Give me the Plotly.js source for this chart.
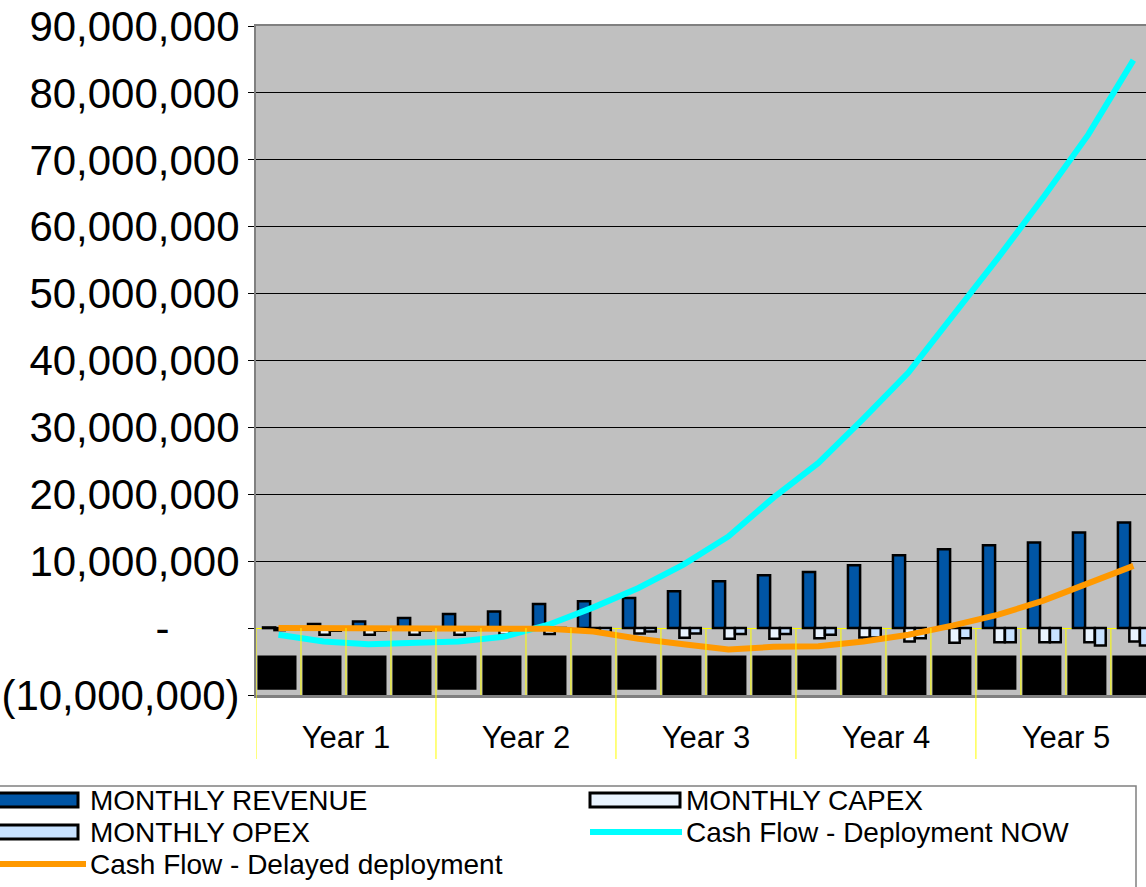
<!DOCTYPE html>
<html><head><meta charset="utf-8">
<script src="https://cdn.plot.ly/plotly-3.0.1.min.js"></script>
<style>html,body{margin:0;padding:0;background:#fff;}#chart{width:1146px;height:887px;}</style>
</head><body><div id="chart"></div>
<script>
const quarters = ['Y1Q1','Y1Q2','Y1Q3','Y1Q4','Y2Q1','Y2Q2','Y2Q3','Y2Q4','Y3Q1','Y3Q2','Y3Q3','Y3Q4','Y4Q1','Y4Q2','Y4Q3','Y4Q4','Y5Q1','Y5Q2','Y5Q3','Y5Q4'];
const years = ['Year 1','Year 2','Year 3','Year 4','Year 5'];
const revenue = [100000,600000,1000000,1500000,2100000,2500000,3600000,4000000,4500000,5500000,7000000,7900000,8400000,9400000,10900000,11800000,12400000,12800000,14300000,15800000];
const capex = [-300000,-1000000,-1000000,-1000000,-1000000,-1000000,-900000,-600000,-800000,-1450000,-1600000,-1600000,-1500000,-1400000,-2000000,-2200000,-2100000,-2100000,-2100000,-2000000];
const opex = [-200000,-400000,-400000,-400000,-400000,-400000,-400000,-600000,-500000,-800000,-900000,-900000,-1000000,-1400000,-1500000,-1500000,-2100000,-2100000,-2600000,-2600000];
const cashNow = [-1000000,-2000000,-2400000,-2300000,-2000000,-1300000,500000,3100000,6000000,9500000,13700000,19500000,24700000,31300000,38200000,46800000,55400000,64400000,73800000,84900000];
const cashDelayed = [0,0,0,0,0,0,-100000,-500000,-1600000,-2400000,-3200000,-2800000,-2700000,-2000000,-1000000,400000,2000000,4100000,6700000,9300000];
const bandTop = -4100000;
const bandLen = [-5100000,-6500000,-6500000,-6500000,-5100000,-6500000,-6500000,-6500000,-5100000,-6500000,-6500000,-6500000,-5100000,-6500000,-6500000,-6500000,-5100000,-6500000,-6500000,-6500000];
const yTickVals = [90000000,80000000,70000000,60000000,50000000,40000000,30000000,20000000,10000000,0,-10000000];
const yTickText = ['90,000,000','80,000,000','70,000,000','60,000,000','50,000,000','40,000,000','30,000,000','20,000,000','10,000,000','-\u2007\u2007\u2007','(10,000,000)'];
const legendNames = ['MONTHLY REVENUE','MONTHLY CAPEX','MONTHLY OPEX','Cash Flow - Deployment NOW','Cash Flow - Delayed deployment'];

const xi = quarters.map((q,i)=>i);
const FONT = 'Arial, "Liberation Sans", sans-serif';
const C = {rev:'#0055A5', capex:'#EAF4FF', opex:'#C8E2FF', now:'#00FFFF', delayed:'#FF9900'};

const traces = [
  {type:'bar', name:'band', x:xi, y:bandLen, base:bandTop, offset:-0.467, width:0.867,
   marker:{color:'#000000', line:{width:0}}, showlegend:false, hoverinfo:'skip'},
  {type:'bar', name:legendNames[0], x:xi, y:revenue, offset:-0.344, width:0.27,
   marker:{color:C.rev, line:{color:'#000', width:2.5}}},
  {type:'bar', name:legendNames[1], x:xi, y:capex, offset:-0.09, width:0.23,
   marker:{color:C.capex, line:{color:'#000', width:2.5}}},
  {type:'bar', name:legendNames[2], x:xi, y:opex, offset:0.145, width:0.24,
   marker:{color:C.opex, line:{color:'#000', width:2.5}}},
  {type:'scatter', mode:'lines', name:legendNames[3], x:xi, y:cashNow,
   line:{color:C.now, width:6}},
  {type:'scatter', mode:'lines', name:legendNames[4], x:xi, y:cashDelayed,
   line:{color:C.delayed, width:6}}
];

// pixel helpers for legend (plot area: left 256, width 890, bottom 695, height 669)
const L=256, W=890, B=695, H=669;
const px = v => (v-L)/W;
const py = v => (B-v)/H;

const shapes = [];
for (let i=0;i<=quarters.length;i++){
  shapes.push({type:'line', xref:'x', yref:'y', x0:i-0.5, x1:i-0.5, y0:0, y1:-10000000,
    line:{color:'#FFFF00', width:1}, layer:'above'});
}
for (let k=0;k<=years.length;k++){
  const xv = k*4-0.5;
  shapes.push({type:'line', xref:'x', yref:'paper', x0:xv, x1:xv, y0:0, y1:py(759),
    line:{color:'#FFFF00', width:1}});
}
shapes.push({type:'rect', xref:'paper', yref:'paper', x0:px(-5), x1:px(1136), y0:py(786), y1:py(900),
  line:{color:'#808080', width:1.5}, fillcolor:'rgba(0,0,0,0)'});
const rectSym = (x0,x1,yc,fill)=>({type:'rect', xref:'paper', yref:'paper', x0:px(x0), x1:px(x1), y0:py(yc+7), y1:py(yc-7),
  line:{color:'#000', width:3}, fillcolor:fill});
const lineSym = (x0,x1,yc,col)=>({type:'line', xref:'paper', yref:'paper', x0:px(x0), x1:px(x1), y0:py(yc), y1:py(yc),
  line:{color:col, width:6}});
shapes.push(rectSym(-10,78,800,C.rev));
shapes.push(rectSym(590,680,800,C.capex));
shapes.push(rectSym(-10,78,832,C.opex));
shapes.push(lineSym(590,682,832,C.now));
shapes.push(lineSym(-10,86,864,C.delayed));

const ann = (txt,x,y)=>({xref:'paper', yref:'paper', x:px(x), y:py(y), text:txt, showarrow:false,
  xanchor:'left', yanchor:'middle', font:{family:FONT, size:28, color:'#000'}});
const annotations = [
  ann(legendNames[0],88,800), ann(legendNames[1],684,800),
  ann(legendNames[2],88,832), ann(legendNames[3],684,832),
  ann(legendNames[4],88,864)
];

const layout = {
  width:1146, height:887,
  margin:{l:256, r:0, t:26, b:192, pad:0},
  paper_bgcolor:'#FFFFFF', plot_bgcolor:'#C0C0C0',
  barmode:'overlay', showlegend:false,
  font:{family:FONT, color:'#000'},
  xaxis:{range:[-0.5, 19.28], tickmode:'array', tickvals:[1.5,5.5,9.5,13.5,17.5], ticktext:years,
    showgrid:false, zeroline:false, showline:true, mirror:true, linecolor:'#808080', linewidth:2.5,
    ticks:'', tickfont:{family:FONT, size:31, color:'#000'}, ticklabelstandoff:13, fixedrange:true},
  yaxis:{range:[-10000000, 90000000], tickmode:'array', tickvals:yTickVals, ticktext:yTickText,
    showgrid:true, gridcolor:'#000000', gridwidth:1,
    zeroline:true, zerolinecolor:'#FFFF00', zerolinewidth:1,
    showline:true, linecolor:'#808080', linewidth:2,
    ticks:'outside', ticklen:6, tickcolor:'#000', tickwidth:1,
    tickfont:{family:FONT, size:42, color:'#000'}, ticklabelstandoff:0, fixedrange:true},
  shapes:shapes, annotations:annotations
};
Plotly.newPlot('chart', traces, layout, {displayModeBar:false, staticPlot:true});
</script></body></html>
